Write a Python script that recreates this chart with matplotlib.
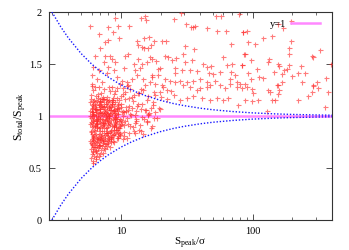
import matplotlib
matplotlib.use("Agg")
import matplotlib.pyplot as plt
from matplotlib.ticker import LogLocator, NullFormatter, FixedLocator

plt.rcParams['font.family'] = ['Liberation Serif', 'DejaVu Serif']
plt.rcParams['mathtext.fontset'] = 'custom'
plt.rcParams['mathtext.rm'] = 'Liberation Serif'
plt.rcParams['mathtext.it'] = 'Liberation Serif:italic'

# --- sources: x = S_peak/sigma, y = S_total/S_peak ---

# scattered sources, upper left (x ~ 6-17)
upleft_x = [5.85, 6.85, 8.05, 8.7, 8.95, 9.5, 11.6, 14.1, 15.3, 15.6, 14.9, 16.4, 13.3, 13.6, 14.4,
            15.1, 16.0, 17.0, 7.6, 8.05, 9.6, 7.0, 6.4, 7.6, 7.4, 8.3, 8.6, 9.05, 10.8, 11.4,
            12.5, 13.6, 14.4, 15.7, 17.2, 6.2, 6.8, 8.05, 8.8, 10.5, 12.7, 14.0, 6.0, 6.6, 7.2,
            7.85, 9.3, 10.2, 11.1, 12.1, 13.2, 14.8, 16.7, 6.0, 6.4, 8.5, 9.9, 11.4, 15.3, 17.2]
upleft_y = [1.87, 1.79, 1.86, 1.81, 1.94, 1.87, 1.87, 1.94, 1.96, 1.92, 1.75, 1.76, 1.72, 1.68, 1.66,
            1.65, 1.65, 1.68, 1.71, 1.73, 1.75, 1.65, 1.58, 1.58, 1.52, 1.58, 1.55, 1.52, 1.58, 1.60,
            1.50, 1.55, 1.50, 1.52, 1.55, 1.47, 1.44, 1.47, 1.44, 1.46, 1.44, 1.46, 1.39, 1.36, 1.33,
            1.41, 1.375, 1.34, 1.33, 1.36, 1.39, 1.36, 1.33, 1.31, 1.28, 1.28, 1.31, 1.295, 1.295, 1.39]

# scattered sources, upper middle (x ~ 17-90)
upmid_x = [25.1, 28.5, 31.1, 33.9, 35.5, 36.5, 44.8, 53.4, 52.5, 57.3, 62.8, 79.2, 84.0, 68.5, 18.0,
           20.4, 22.0, 30.9, 36.1, 21.5, 22.7, 26.2, 29.8, 16.7, 18.5, 24.3, 30.7, 34.5, 41.8, 44.8,
           48.3, 59.3, 63.5, 69.3, 82.6, 86.5, 19.1, 19.9, 25.8, 25.8, 29.0, 33.5, 37.7, 46.9, 50.3,
           56.5, 68.5, 73.5, 17.2, 19.3, 21.7, 23.6, 25.8, 28.1, 31.6, 35.5, 39.8, 44.8, 51.6, 67.3,
           75.7, 80.2, 18.2, 20.4, 29.8, 47.5, 56.5, 67.3]
upmid_y = [1.93, 1.99, 1.88, 1.86, 1.86, 1.87, 1.85, 1.82, 1.96, 1.96, 1.82, 1.98, 1.81, 1.69, 1.72,
           1.72, 1.72, 1.67, 1.64, 1.58, 1.57, 1.56, 1.60, 1.57, 1.53, 1.54, 1.52, 1.54, 1.50, 1.47,
           1.48, 1.57, 1.49, 1.50, 1.49, 1.60, 1.45, 1.46, 1.46, 1.41, 1.44, 1.44, 1.43, 1.41, 1.40,
           1.42, 1.42, 1.39, 1.375, 1.39, 1.36, 1.34, 1.33, 1.34, 1.33, 1.34, 1.36, 1.33, 1.34, 1.36,
           1.33, 1.31, 1.31, 1.295, 1.295, 1.295, 1.295, 1.31]

# scattered sources, upper right (x ~ 80-400)
upright_x = [84, 90.1, 92.7, 105, 120, 141, 156, 171, 197, 195, 189, 188, 280, 288, 324,
             390, 87.5, 98, 134, 131, 156, 159, 189, 232, 82.6, 92.7, 108, 112, 119, 146,
             168, 173, 181, 200, 219, 249, 310, 359, 87.5, 98, 152, 168, 235, 288]
upright_y = [1.81, 1.82, 1.71, 1.69, 1.75, 1.77, 1.88, 1.85, 1.91, 1.72, 1.65, 1.60, 1.58, 1.57, 1.63,
             1.50, 1.60, 1.54, 1.55, 1.52, 1.50, 1.48, 1.49, 1.48, 1.49, 1.41, 1.45, 1.375, 1.37, 1.42,
             1.40, 1.44, 1.45, 1.38, 1.41, 1.41, 1.33, 1.37, 1.31, 1.36, 1.30, 1.33, 1.33, 1.29]

# sources just above the upper envelope (x ~ 15-370)
mid_x = [33.5, 37.7, 39.8, 44.8, 53.4, 59.8, 65.5, 61.6, 25.1, 28.1, 31.6, 35.5, 41.1, 47.5, 19.9,
         22.3, 17.6, 19.9, 15.7, 17.2, 18.8, 14.8, 16.2, 18.2,
         75.7, 83.4, 90.1, 98.2, 101, 131, 135, 147.5, 156, 158, 156, 139, 87.5, 98.2, 109,
         77.8, 128, 222, 264, 288, 314, 280, 374, 353]
mid_y = [1.28, 1.25, 1.27, 1.28, 1.17, 1.15, 1.17, 1.27, 1.20, 1.15, 1.17, 1.19, 1.17, 1.15, 1.23,
         1.25, 1.11, 1.07, 0.95, 0.90, 0.98, 0.83, 1.01, 1.04,
         1.28, 1.27, 1.28, 1.26, 1.22, 1.25, 1.23, 1.15, 1.21, 1.25, 1.30, 1.15, 1.15, 1.14, 1.15,
         1.11, 1.05, 1.15, 1.19, 1.30, 1.27, 1.23, 1.23, 1.09]

# dense low-S/N clump (x ~ 6-18)
clump_x = [5.9, 6.1, 6.3, 6.5, 6.7, 6.9, 7.1, 7.4, 7.7, 8.0, 8.3, 8.7, 9.1, 9.6, 10.1, 10.8, 11.5, 12.3,
           13.4, 6.0, 6.6, 7.2, 7.9, 8.5, 9.3, 6.2, 6.8, 7.5, 8.2, 8.9,
           5.8, 6.0, 6.2, 6.4, 6.6, 6.8, 7.0, 7.3, 7.6, 7.9, 8.2, 8.6, 9.0, 9.5, 10.0, 10.6, 11.3, 12.2,
           13.0, 14.2, 15.5, 17.0, 6.1, 6.5, 6.9, 7.4, 8.0, 8.8, 9.7, 11.0,
           5.9, 6.1, 6.3, 6.5, 6.7, 7.0, 7.2, 7.5, 7.8, 8.1, 8.4, 8.8, 9.2, 9.8, 10.4, 11.2, 12.0, 13.0,
           14.5, 16.0, 18.0, 6.0, 6.6, 7.1, 7.7, 8.3, 9.0,
           5.8, 6.0, 6.2, 6.4, 6.6, 6.8, 7.0, 7.3, 7.6, 7.9, 8.2, 8.6, 9.0, 9.5, 10.1, 10.8, 11.7, 12.8,
           14.0, 15.8, 6.1, 6.5, 6.9, 7.4, 8.0, 8.8, 9.8,
           5.9, 6.1, 6.3, 6.5, 6.7, 6.9, 7.1, 7.4, 7.7, 8.0, 8.4, 8.8, 9.3, 9.9, 10.6, 11.5, 12.5, 13.8,
           6.0, 6.6, 7.2, 7.8, 8.5, 9.5,
           5.8, 6.0, 6.2, 6.4, 6.6, 6.8, 7.0, 7.3, 7.6, 8.0, 8.4, 8.9, 9.5, 10.3, 11.2, 6.1, 6.5, 6.9,
           7.5, 8.2,
           5.9, 6.1, 6.3, 6.5, 6.8, 7.1, 7.4, 7.8, 8.3, 6.0, 6.6, 7.0, 7.6,
           5.9, 6.1, 6.3, 6.5, 6.9, 7.3, 6.2, 6.0,
           5.9, 6.2, 6.5, 6.8, 7.1, 7.5, 7.9, 8.3, 8.8, 9.4, 10.0, 10.8, 11.7, 12.6, 6.0, 6.7, 7.3, 8.1,
           9.0, 10.4, 13.5, 14.8, 16.2, 18.0]
clump_y = [1.16, 1.12, 1.15, 1.11, 1.17, 1.13, 1.10, 1.16, 1.12, 1.14, 1.11, 1.17, 1.13, 1.15, 1.12, 1.16,
           1.10, 1.14, 1.12, 1.11, 1.14, 1.16, 1.10, 1.13, 1.17, 1.14, 1.11, 1.12, 1.15, 1.10,
           1.05, 1.08, 1.04, 1.09, 1.06, 1.03, 1.07, 1.09, 1.04, 1.06, 1.08, 1.03, 1.07, 1.05, 1.09, 1.04,
           1.06, 1.08, 1.05, 1.07, 1.06, 1.08, 1.04, 1.07, 1.09, 1.05, 1.03, 1.06, 1.08, 1.09,
           0.98, 1.01, 0.97, 1.02, 0.99, 1.00, 0.97, 1.02, 0.98, 1.01, 0.96, 0.99, 1.02, 0.97, 1.00, 0.98,
           1.01, 0.97, 0.99, 1.02, 0.98, 1.00, 0.96, 1.03, 0.99, 1.02, 0.97,
           0.92, 0.89, 0.95, 0.90, 0.93, 0.88, 0.94, 0.91, 0.95, 0.89, 0.93, 0.90, 0.94, 0.88, 0.92, 0.95,
           0.90, 0.93, 0.91, 0.94, 0.96, 0.92, 0.89, 0.93, 0.95, 0.91, 0.90,
           0.85, 0.81, 0.87, 0.83, 0.80, 0.86, 0.82, 0.88, 0.84, 0.81, 0.86, 0.83, 0.87, 0.82, 0.85, 0.84,
           0.86, 0.87, 0.83, 0.88, 0.80, 0.86, 0.82, 0.85,
           0.76, 0.73, 0.79, 0.75, 0.78, 0.72, 0.77, 0.74, 0.79, 0.76, 0.78, 0.75, 0.79, 0.78, 0.79, 0.77,
           0.74, 0.79, 0.76, 0.78,
           0.68, 0.65, 0.70, 0.66, 0.71, 0.67, 0.69, 0.71, 0.70, 0.72, 0.64, 0.72, 0.68,
           0.60, 0.57, 0.62, 0.59, 0.63, 0.64, 0.55, 0.63,
           1.20, 1.25, 1.19, 1.28, 1.22, 1.26, 1.18, 1.24, 1.21, 1.27, 1.19, 1.23, 1.26, 1.20, 1.29, 1.21,
           1.18, 1.28, 1.24, 1.27, 1.22, 1.25, 1.19, 1.23]

# further passes over the clump core, where the crosses pile up
core_x = [5.85, 6.05, 6.25, 6.45, 6.65, 6.85, 7.05, 7.25, 7.45, 7.65, 7.85, 8.05, 8.25, 8.45, 8.65,
          8.85, 9.05, 9.25, 9.45,
          5.95, 6.15, 6.35, 6.55, 6.75, 6.95, 7.15, 7.35, 7.55, 7.75, 7.95, 8.15, 8.35, 8.55, 8.75,
          8.95, 9.15, 9.35, 9.55,
          5.9, 6.12, 6.33, 6.52, 6.71, 6.93, 7.18, 7.32, 7.58, 7.81, 8.02, 8.21, 8.43, 8.66, 8.83,
          9.1, 9.3, 9.6, 9.9,
          6.0, 6.18, 6.4, 6.6, 6.82, 7.02, 7.22, 7.42, 7.7, 7.9, 8.1, 8.35, 8.6, 8.8, 9.0,
          9.2, 9.5, 9.75, 10.2]
core_y = [1.13, 1.07, 1.01, 0.95, 0.89, 0.83, 0.77, 0.71, 1.09, 1.03, 0.97, 0.91, 0.85, 0.79, 1.15,
          1.05, 0.93, 0.87, 1.11,
          0.74, 0.80, 0.86, 0.92, 0.98, 1.04, 1.10, 1.16, 0.82, 0.88, 0.94, 1.00, 1.06, 1.12, 0.76,
          0.84, 0.99, 1.08, 0.81,
          0.94, 1.10, 0.70, 1.00, 0.78, 1.14, 0.90, 0.96, 0.73, 1.13, 0.84, 1.06, 0.75, 0.97, 0.89,
          1.01, 0.79, 0.95, 0.91,
          1.02, 0.66, 0.91, 0.72, 1.12, 0.93, 1.03, 0.84, 1.00, 0.77, 1.09, 0.87, 1.15, 0.90, 1.03,
          0.92, 1.12, 0.83, 1.04]
core2_x = [5.95, 6.08, 6.22, 6.38, 6.55, 6.72, 6.9, 7.08, 7.28, 7.5, 7.72, 7.95, 8.2, 8.45, 8.7,
           9.0, 9.3, 9.65, 10.0, 10.4,
           5.82, 6.02, 6.2, 6.36, 6.5, 6.62, 6.78, 6.98, 7.15, 7.38, 7.55, 7.82, 8.08, 8.32, 8.58,
           8.92, 9.2, 9.55, 9.85, 10.5,
           6.03, 6.28, 6.43, 6.58, 6.76, 6.95, 7.12, 7.35, 7.62, 7.88, 8.12, 8.4, 8.75, 9.15, 9.4,
           6.15, 6.47, 6.88, 7.26, 7.68]
core2_y = [0.86, 1.04, 0.76, 1.13, 0.95, 0.69, 1.07, 0.81, 1.01, 0.92, 1.15, 0.74, 1.00, 1.09, 0.82,
           0.98, 1.07, 0.88, 0.96, 1.05,
           1.00, 0.78, 0.90, 1.07, 0.61, 0.97, 0.75, 1.16, 0.86, 0.78, 0.96, 1.02, 0.80, 0.92, 1.12,
           0.87, 0.95, 1.02, 0.84, 0.91,
           0.93, 0.82, 1.06, 0.79, 1.03, 0.97, 1.13, 0.93, 1.07, 0.84, 0.98, 0.80, 1.05, 0.89, 0.97,
           0.70, 0.67, 0.62, 0.76, 0.73]

# sparser sources between the envelopes (x ~ 10-24)
outer_x = [10.3, 10.9, 11.4, 12.1, 12.7, 13.3, 14.1, 14.9, 15.8, 16.9, 18.3, 19.6, 21.0, 22.5, 24.0,
           10.6, 11.8, 13.0, 14.5, 16.3, 11.1, 12.4, 13.7, 15.2, 17.5, 20.2, 10.2, 11.6, 12.9, 14.3]
outer_y = [1.21, 1.05, 0.92, 1.18, 0.84, 1.10, 1.26, 0.97, 1.15, 0.88, 1.20, 1.08, 1.28, 1.16, 1.24,
           0.81, 1.02, 0.95, 1.12, 1.03, 1.29, 0.89, 1.22, 1.06, 1.13, 1.18, 0.94, 1.17, 1.01, 0.86]

# dotted envelopes
env_x = [3, 3.5, 4, 5, 6, 7, 8, 10, 12, 15, 20, 25, 30, 40, 50, 70, 100, 150, 200, 300, 400]
env_hi = [2.0, 1.857, 1.75, 1.6, 1.5, 1.429, 1.375, 1.3, 1.25, 1.2, 1.15, 1.12, 1.1, 1.075,
          1.06, 1.043, 1.03, 1.02, 1.015, 1.01, 1.0075]
env_lo = [0.0, 0.143, 0.25, 0.4, 0.5, 0.571, 0.625, 0.7, 0.75, 0.8, 0.85, 0.88, 0.9, 0.925,
          0.94, 0.957, 0.97, 0.98, 0.985, 0.99, 0.9925]
ref_level = 1.0

xs = upleft_x + upmid_x + upright_x + mid_x + clump_x + core_x + core2_x + outer_x
ys = upleft_y + upmid_y + upright_y + mid_y + clump_y + core_y + core2_y + outer_y
n = min(len(xs), len(ys))

fig = plt.figure(figsize=(3.49, 2.5), dpi=100)
ax = fig.add_axes([0.1404, 0.12, 0.8109, 0.832])

ax.axhline(ref_level, color='#ff88ff', lw=1.8, zorder=2, label='y=1')
ax.plot(xs[:n], ys[:n], '+', color='#ff2a2a', alpha=0.62, ms=3.6, mew=0.8, zorder=3)
ax.plot(env_x, env_hi, color='#1a1aff', lw=1.0, ls=(0, (1, 1.3)), zorder=4)
ax.plot(env_x, env_lo, color='#1a1aff', lw=1.0, ls=(0, (1, 1.3)), zorder=4)

ax.set_xscale('log')
ax.set_xlim(2.85, 400)
ax.set_ylim(0, 2)

ax.xaxis.set_major_locator(FixedLocator([10, 100]))
ax.set_xticklabels(['10', '100'])
ax.xaxis.set_minor_locator(LogLocator(base=10, subs=range(2, 10)))
ax.xaxis.set_minor_formatter(NullFormatter())
ax.set_yticks([0, 0.5, 1, 1.5, 2])
ax.set_yticklabels(['0', '0.5', '1', '1.5', '2'])

ax.tick_params(which='both', direction='in', top=True, right=True, labelsize=7.5, color='#333333')
ax.tick_params(which='major', length=4, width=0.6, pad=5)
ax.tick_params(which='minor', length=2.2, width=0.5)
for s in ax.spines.values():
    s.set_linewidth(0.8)
    s.set_color('#333333')

ax.set_xlabel(r'$\mathrm{S_{peak}/σ}$', fontsize=8)
ax.xaxis.set_label_coords(0.5, -0.075)
ax.set_ylabel(r'$\mathrm{S_{total}/S_{peak}}$', fontsize=8.5, labelpad=1)

ax.legend(loc='upper right', bbox_to_anchor=(0.985, 1.0), frameon=False, markerfirst=False,
          handlelength=2.8, fontsize=7.5, borderaxespad=0.3, handletextpad=0.5)

fig.savefig('out.png', dpi=100)
